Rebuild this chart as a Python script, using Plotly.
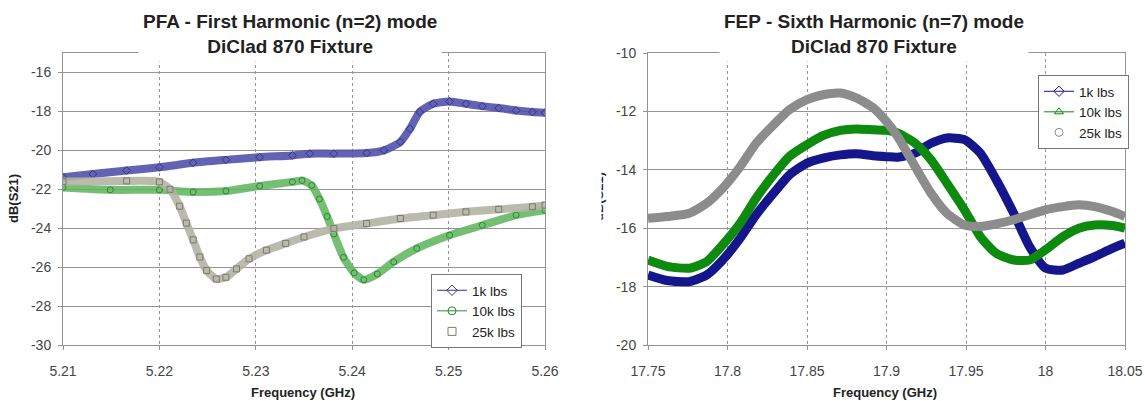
import plotly.graph_objects as go

# ---------------- PFA - First Harmonic (n=2) mode ----------------
pfa_freq_1k = [5.2100, 5.2131, 5.2166, 5.2200, 5.2235, 5.2269, 5.2304, 5.2338, 5.2356,
               5.2381, 5.2415, 5.2433, 5.2450, 5.2460, 5.2470, 5.2484, 5.2501, 5.2518,
               5.2535, 5.2552, 5.2570, 5.2587, 5.2600]
pfa_s21_1k = [-21.39, -21.22, -21.04, -20.87, -20.64, -20.49, -20.35, -20.26, -20.17,
              -20.17, -20.14, -20.00, -19.57, -18.89, -18.03, -17.61, -17.49, -17.61,
              -17.73, -17.83, -17.95, -18.03, -18.07]

pfa_freq_10k = [5.2100, 5.2149, 5.2200, 5.2235, 5.2269, 5.2304, 5.2338, 5.2348, 5.2358,
                5.2366, 5.2374, 5.2381, 5.2391, 5.2402, 5.2412, 5.2426, 5.2443, 5.2467,
                5.2501, 5.2535, 5.2570, 5.2600]
pfa_s21_10k = [-21.91, -22.03, -22.03, -22.14, -22.09, -21.83, -21.62, -21.55, -21.80,
               -22.50, -23.40, -24.30, -25.50, -26.30, -26.65, -26.35, -25.73, -25.04,
               -24.36, -23.85, -23.33, -23.08]

pfa_freq_25k = [5.2100, 5.2166, 5.2200, 5.2211, 5.2221, 5.2228, 5.2235, 5.2242, 5.2249,
                5.2259, 5.2269, 5.2280, 5.2293, 5.2311, 5.2331, 5.2350, 5.2381, 5.2415,
                5.2450, 5.2484, 5.2518, 5.2552, 5.2587, 5.2600]
pfa_s21_25k = [-21.60, -21.57, -21.62, -22.00, -22.87, -23.74, -24.60, -25.48, -26.17,
               -26.61, -26.52, -26.09, -25.57, -25.13, -24.78, -24.45, -24.02, -23.76,
               -23.50, -23.33, -23.16, -23.03, -22.90, -22.82]

# ---------------- FEP - Sixth Harmonic (n=7) mode ----------------
fep_freq = [17.750, 17.762, 17.776, 17.787, 17.797, 17.808, 17.818, 17.829, 17.839, 17.850,
            17.860, 17.871, 17.881, 17.892, 17.900, 17.907, 17.918, 17.928, 17.938, 17.949,
            17.959, 17.969, 17.980, 17.990, 18.000, 18.011, 18.021, 18.031, 18.042, 18.050]
fep_s21_1k = [-17.60, -17.79, -17.83, -17.60, -17.09, -16.34, -15.54, -14.80, -14.17, -13.77,
              -13.60, -13.49, -13.45, -13.52, -13.55, -13.57, -13.43, -13.09, -12.91, -12.97,
              -13.43, -14.34, -15.49, -16.63, -17.37, -17.43, -17.20, -16.97, -16.69, -16.51]
fep_s21_10k = [-17.09, -17.31, -17.37, -17.14, -16.57, -15.83, -14.97, -14.17, -13.54, -13.14,
               -12.83, -12.65, -12.60, -12.63, -12.65, -12.74, -13.09, -13.66, -14.46, -15.37,
               -16.29, -16.86, -17.09, -17.09, -16.74, -16.29, -16.00, -15.89, -15.91, -16.00]
fep_s21_25k = [-15.66, -15.60, -15.49, -15.14, -14.63, -13.89, -13.09, -12.46, -11.94, -11.60,
               -11.43, -11.37, -11.54, -11.89, -12.35, -12.86, -13.89, -14.80, -15.49, -15.89,
               -15.94, -15.85, -15.71, -15.54, -15.37, -15.26, -15.20, -15.26, -15.43, -15.60]

series_names = ["1k lbs", "10k lbs", "25k lbs"]

# tick labels (Excel-style hyphen minus)
pfa_xticks = [5.21, 5.22, 5.23, 5.24, 5.25, 5.26]
pfa_xtext = ["5.21", "5.22", "5.23", "5.24", "5.25", "5.26"]
pfa_yticks = [-30, -28, -26, -24, -22, -20, -18, -16]
pfa_ytext = ["-30", "-28", "-26", "-24", "-22", "-20", "-18", "-16"]
fep_xticks = [17.75, 17.8, 17.85, 17.9, 17.95, 18.0, 18.05]
fep_xtext = ["17.75", "17.8", "17.85", "17.9", "17.95", "18", "18.05"]
fep_yticks = [-20, -18, -16, -14, -12, -10]
fep_ytext = ["-20", "-18", "-16", "-14", "-12", "-10"]

FONT = "Liberation Sans, Arial, sans-serif"
W, H = 1145, 401

# plot-area placement in pixels
L_X0, L_X1 = 63, 545
R_X0, R_X1 = 648, 1125
P_Y0, P_Y1 = 53, 345


def px(x):
    return x / W


def py(y):
    return 1 - y / H


fig = go.Figure()

# PFA traces: dense open-marker bands
pfa_style = [
    (pfa_freq_1k, pfa_s21_1k, "rgba(82,82,172,0.9)", "#33338a", "diamond-open"),
    (pfa_freq_10k, pfa_s21_10k, "rgba(98,182,98,0.88)", "#2a8a2a", "circle-open"),
    (pfa_freq_25k, pfa_s21_25k, "rgba(180,180,164,0.9)", "#7a7a6c", "square-open"),
]
for name, (fx, fy, band, edge, sym) in zip(series_names, pfa_style):
    fig.add_trace(go.Scatter(
        x=fx, y=fy, mode="lines+markers", xaxis="x", yaxis="y",
        line=dict(color=band, width=8, shape="spline", smoothing=0.6),
        marker=dict(symbol=sym, size=6, color=edge, line=dict(width=1, color=edge)),
        showlegend=False, hoverinfo="skip"))
    fig.add_trace(go.Scatter(
        x=[None], y=[None], mode="lines+markers" if sym != "square-open" else "markers",
        xaxis="x", yaxis="y", name=name, legend="legend",
        line=dict(color=edge, width=1),
        marker=dict(symbol=sym, size=8, color=edge, line=dict(width=1, color=edge))))

# FEP traces: solid thick bands
fep_style = [
    (fep_s21_1k, "#15158c", "diamond-open"),
    (fep_s21_10k, "#0e8a0e", "triangle-up-open"),
    (fep_s21_25k, "#8c8c8c", "circle-open"),
]
for name, (fy, col, sym) in zip(series_names, fep_style):
    fig.add_trace(go.Scatter(
        x=fep_freq, y=fy, mode="lines", xaxis="x2", yaxis="y2",
        line=dict(color=col, width=9, shape="spline", smoothing=0.6),
        showlegend=False, hoverinfo="skip"))
    fig.add_trace(go.Scatter(
        x=[None], y=[None], mode="lines+markers" if sym != "circle-open" else "markers",
        xaxis="x2", yaxis="y2", name=name, legend="legend2",
        line=dict(color=col, width=1),
        marker=dict(symbol=sym, size=8, color=col, line=dict(width=1, color=col))))

GRID = "#949494"
axis_common = dict(showline=True, linecolor=GRID, linewidth=1, mirror=True,
                   ticks="outside", ticklen=4, tickcolor=GRID, zeroline=False,
                   automargin=False,
                   tickfont=dict(family=FONT, size=14, color="#444"))

legend_common = dict(xanchor="left", yanchor="top", bgcolor="white",
                     bordercolor="#777", borderwidth=1,
                     font=dict(family=FONT, size=13.5, color="#222"),
                     itemwidth=30, tracegroupgap=0)

fig.update_layout(
    width=W, height=H,
    margin=dict(l=0, r=0, t=0, b=0, autoexpand=False),
    paper_bgcolor="white", plot_bgcolor="white",
    font=dict(family=FONT, color="#222"),
    xaxis=dict(domain=[px(L_X0), px(L_X1)], range=[5.21, 5.26], anchor="y",
               tickvals=pfa_xticks, ticktext=pfa_xtext,
               showgrid=True, gridcolor=GRID, griddash="dot", gridwidth=1,
               ticklabelstandoff=9, **axis_common),
    yaxis=dict(domain=[py(P_Y1), py(P_Y0)], range=[-30, -15], anchor="x",
               tickvals=pfa_yticks, ticktext=pfa_ytext,
               showgrid=True, gridcolor=GRID, gridwidth=1, ticklabelstandoff=4,
               **axis_common),
    xaxis2=dict(domain=[px(R_X0), px(R_X1)], range=[17.75, 18.05], anchor="y2",
                tickvals=fep_xticks, ticktext=fep_xtext,
                showgrid=True, gridcolor=GRID, griddash="dot", gridwidth=1,
                ticklabelstandoff=9, **axis_common),
    yaxis2=dict(domain=[py(P_Y1), py(P_Y0)], range=[-20, -10], anchor="x2",
                tickvals=fep_yticks, ticktext=fep_ytext,
                showgrid=True, gridcolor=GRID, gridwidth=1, ticklabelstandoff=4,
                **axis_common),
    legend=dict(x=px(431), y=py(274), **legend_common),
    legend2=dict(x=px(1038), y=py(75), **legend_common),
)

title_font = dict(family=FONT, size=19, color="#222")
label_font = dict(family=FONT, size=13, color="#222")
centered = dict(xref="paper", yref="paper", showarrow=False,
                xanchor="center", yanchor="middle")
annotations = [
    # chart titles, boxed in white so they sit over the top frame
    dict(x=px(290), y=py(34),
         text="<b>PFA - First Harmonic (n=2) mode</b><br><b>DiClad 870 Fixture</b>",
         font=title_font, bgcolor="white", borderpad=4, align="center", **centered),
    dict(x=px(874), y=py(34),
         text="<b>FEP - Sixth Harmonic (n=7) mode</b><br><b>DiClad 870 Fixture</b>",
         font=title_font, bgcolor="white", borderpad=4, align="center", **centered),
    # axis titles
    dict(x=px(303), y=py(392), text="<b>Frequency (GHz)</b>", font=label_font, **centered),
    dict(x=px(885), y=py(392), text="<b>Frequency (GHz)</b>", font=label_font, **centered),
    dict(x=px(13), y=py(199), text="<b>dB(S21)</b>", font=label_font, textangle=-90,
         **centered),
    dict(x=px(599), y=py(197), text="<b>dB(S21)</b>", font=label_font, textangle=-90,
         **centered),
    # right panel's y title is cut by the panel edge
    dict(x=px(594), y=py(197), text=" ", width=14, height=80, bgcolor="white",
         borderpad=0, **centered),
]
fig.update_layout(annotations=annotations)

fig.write_html("out.html")
